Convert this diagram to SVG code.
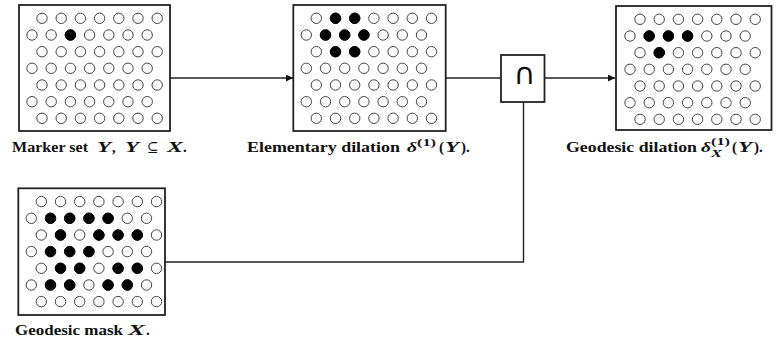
<svg xmlns="http://www.w3.org/2000/svg" xmlns:xlink="http://www.w3.org/1999/xlink" width="777" height="347" viewBox="0 0 777 347">
<style>
.box{fill:#fff;stroke:#222;stroke-width:1.8}
.o{fill:#fff;stroke:#444;stroke-width:1}
.f{fill:#000;stroke:#000;stroke-width:1}
.con{fill:none;stroke:#222;stroke-width:1.4}
.t{font-family:"Liberation Serif",serif;font-weight:bold;font-size:15px;fill:#111}
.m{font-family:"Liberation Serif",serif;font-weight:bold;font-style:italic;font-size:15px;fill:#111}
.s{font-family:"Liberation Serif",serif;font-weight:bold;font-size:10.5px;fill:#111}
.sm{font-family:"Liberation Serif",serif;font-weight:bold;font-style:italic;font-size:10.5px;fill:#111}
</style>
<defs>
<marker id="arr" viewBox="0 0 10 10" refX="10" refY="5" markerWidth="9" markerHeight="7" markerUnits="userSpaceOnUse" orient="auto">
<path d="M0,0 L10,5 L0,10 z" fill="#111"/>
</marker>
<g id="grid">
<g class="o">
<circle cx="23" cy="13.3" r="5.2"/><circle cx="42.2" cy="13.3" r="5.2"/><circle cx="61.4" cy="13.3" r="5.2"/><circle cx="80.6" cy="13.3" r="5.2"/><circle cx="99.8" cy="13.3" r="5.2"/><circle cx="119" cy="13.3" r="5.2"/><circle cx="138.2" cy="13.3" r="5.2"/>
<circle cx="13" cy="30" r="5.2"/><circle cx="32.2" cy="30" r="5.2"/><circle cx="51.4" cy="30" r="5.2"/><circle cx="70.6" cy="30" r="5.2"/><circle cx="89.8" cy="30" r="5.2"/><circle cx="109" cy="30" r="5.2"/><circle cx="128.2" cy="30" r="5.2"/>
<circle cx="23" cy="46.7" r="5.2"/><circle cx="42.2" cy="46.7" r="5.2"/><circle cx="61.4" cy="46.7" r="5.2"/><circle cx="80.6" cy="46.7" r="5.2"/><circle cx="99.8" cy="46.7" r="5.2"/><circle cx="119" cy="46.7" r="5.2"/><circle cx="138.2" cy="46.7" r="5.2"/>
<circle cx="13" cy="63.3" r="5.2"/><circle cx="32.2" cy="63.3" r="5.2"/><circle cx="51.4" cy="63.3" r="5.2"/><circle cx="70.6" cy="63.3" r="5.2"/><circle cx="89.8" cy="63.3" r="5.2"/><circle cx="109" cy="63.3" r="5.2"/><circle cx="128.2" cy="63.3" r="5.2"/>
<circle cx="23" cy="80" r="5.2"/><circle cx="42.2" cy="80" r="5.2"/><circle cx="61.4" cy="80" r="5.2"/><circle cx="80.6" cy="80" r="5.2"/><circle cx="99.8" cy="80" r="5.2"/><circle cx="119" cy="80" r="5.2"/><circle cx="138.2" cy="80" r="5.2"/>
<circle cx="13" cy="96.7" r="5.2"/><circle cx="32.2" cy="96.7" r="5.2"/><circle cx="51.4" cy="96.7" r="5.2"/><circle cx="70.6" cy="96.7" r="5.2"/><circle cx="89.8" cy="96.7" r="5.2"/><circle cx="109" cy="96.7" r="5.2"/><circle cx="128.2" cy="96.7" r="5.2"/>
<circle cx="23" cy="113.3" r="5.2"/><circle cx="42.2" cy="113.3" r="5.2"/><circle cx="61.4" cy="113.3" r="5.2"/><circle cx="80.6" cy="113.3" r="5.2"/><circle cx="99.8" cy="113.3" r="5.2"/><circle cx="119" cy="113.3" r="5.2"/><circle cx="138.2" cy="113.3" r="5.2"/>
</g>
</g>
</defs>
<rect width="777" height="347" fill="#fff"/>

<g id="connectors">
<line class="con" x1="170" y1="78" x2="293" y2="78" marker-end="url(#arr)"/>
<line class="con" x1="446" y1="78" x2="501" y2="78"/>
<line class="con" x1="544" y1="78" x2="615" y2="78" marker-end="url(#arr)"/>
<polyline class="con" points="165,262 523.5,262 523.5,102"/>
</g>

<g id="marker-set">
<rect class="box" x="19" y="5" width="151" height="126"/>
<use xlink:href="#grid" x="19" y="5"/>
<g class="f" transform="translate(19,5)"><circle cx="51.4" cy="30" r="5.2"/></g>
<text class="t" x="12" y="152" textLength="76" lengthAdjust="spacingAndGlyphs">Marker set</text>
<text class="m" x="97" y="152" textLength="14" lengthAdjust="spacingAndGlyphs">Y</text>
<text class="t" x="112" y="152">,</text>
<text class="m" x="125" y="152" textLength="14" lengthAdjust="spacingAndGlyphs">Y</text>
<text x="147" y="152" style="font-family:'DejaVu Serif',serif;font-size:14px;fill:#111">⊆</text>
<text class="m" x="167" y="152" textLength="16" lengthAdjust="spacingAndGlyphs">X</text>
<text class="t" x="183" y="152">.</text>
</g>

<g id="elementary-dilation">
<rect class="box" x="293.3" y="5" width="152.4" height="126"/>
<use xlink:href="#grid" x="293.3" y="5"/>
<g class="f" transform="translate(293.3,5)">
<circle cx="42.2" cy="13.3" r="5.2"/><circle cx="61.4" cy="13.3" r="5.2"/>
<circle cx="32.2" cy="30" r="5.2"/><circle cx="51.4" cy="30" r="5.2"/><circle cx="70.6" cy="30" r="5.2"/>
<circle cx="42.2" cy="46.7" r="5.2"/><circle cx="61.4" cy="46.7" r="5.2"/>
</g>
<text class="t" x="247" y="152" textLength="153" lengthAdjust="spacingAndGlyphs">Elementary dilation</text>
<text class="m" x="407" y="152" textLength="10" lengthAdjust="spacingAndGlyphs">δ</text>
<text class="s" x="417" y="146" textLength="19" lengthAdjust="spacingAndGlyphs">(1)</text>
<text class="t" x="439" y="152">(</text>
<text class="m" x="445" y="152" textLength="14" lengthAdjust="spacingAndGlyphs">Y</text>
<text class="t" x="461" y="152">).</text>
</g>

<g id="intersection">
<rect class="box" x="501" y="55" width="43.5" height="47"/>
<text x="524.5" y="84" text-anchor="middle" style="font-family:'DejaVu Sans',sans-serif;font-size:30px;fill:#111">∩</text>
</g>

<g id="geodesic-dilation">
<rect class="box" x="616" y="6" width="155.5" height="124"/>
<use xlink:href="#grid" x="617" y="6"/>
<g class="f" transform="translate(617,6)">
<circle cx="32.2" cy="30" r="5.2"/><circle cx="51.4" cy="30" r="5.2"/><circle cx="70.6" cy="30" r="5.2"/>
<circle cx="42.2" cy="46.7" r="5.2"/>
</g>
<text class="t" x="566" y="152" textLength="131" lengthAdjust="spacingAndGlyphs">Geodesic dilation</text>
<text class="m" x="701" y="152" textLength="10" lengthAdjust="spacingAndGlyphs">δ</text>
<text class="s" x="711" y="145" textLength="19" lengthAdjust="spacingAndGlyphs">(1)</text>
<text class="sm" x="711" y="157" textLength="11" lengthAdjust="spacingAndGlyphs">X</text>
<text class="t" x="732" y="152">(</text>
<text class="m" x="738" y="152" textLength="14" lengthAdjust="spacingAndGlyphs">Y</text>
<text class="t" x="754" y="152">).</text>
</g>

<g id="geodesic-mask">
<rect class="box" x="18.3" y="188.3" width="146.7" height="126.7"/>
<use xlink:href="#grid" x="18.3" y="188.3"/>
<g class="f" transform="translate(18.3,188.3)">
<circle cx="32.2" cy="30" r="5.2"/><circle cx="51.4" cy="30" r="5.2"/><circle cx="70.6" cy="30" r="5.2"/><circle cx="89.8" cy="30" r="5.2"/>
<circle cx="42.2" cy="46.7" r="5.2"/><circle cx="80.6" cy="46.7" r="5.2"/><circle cx="99.8" cy="46.7" r="5.2"/><circle cx="119" cy="46.7" r="5.2"/>
<circle cx="32.2" cy="63.3" r="5.2"/><circle cx="51.4" cy="63.3" r="5.2"/><circle cx="70.6" cy="63.3" r="5.2"/>
<circle cx="42.2" cy="80" r="5.2"/><circle cx="61.4" cy="80" r="5.2"/><circle cx="99.8" cy="80" r="5.2"/><circle cx="119" cy="80" r="5.2"/>
<circle cx="32.2" cy="96.7" r="5.2"/><circle cx="51.4" cy="96.7" r="5.2"/><circle cx="89.8" cy="96.7" r="5.2"/><circle cx="109" cy="96.7" r="5.2"/>
</g>
<text class="t" x="15" y="335" textLength="108" lengthAdjust="spacingAndGlyphs">Geodesic mask</text>
<text class="m" x="128" y="335" textLength="17" lengthAdjust="spacingAndGlyphs">X</text>
<text class="t" x="146" y="335">.</text>
</g>
</svg>
